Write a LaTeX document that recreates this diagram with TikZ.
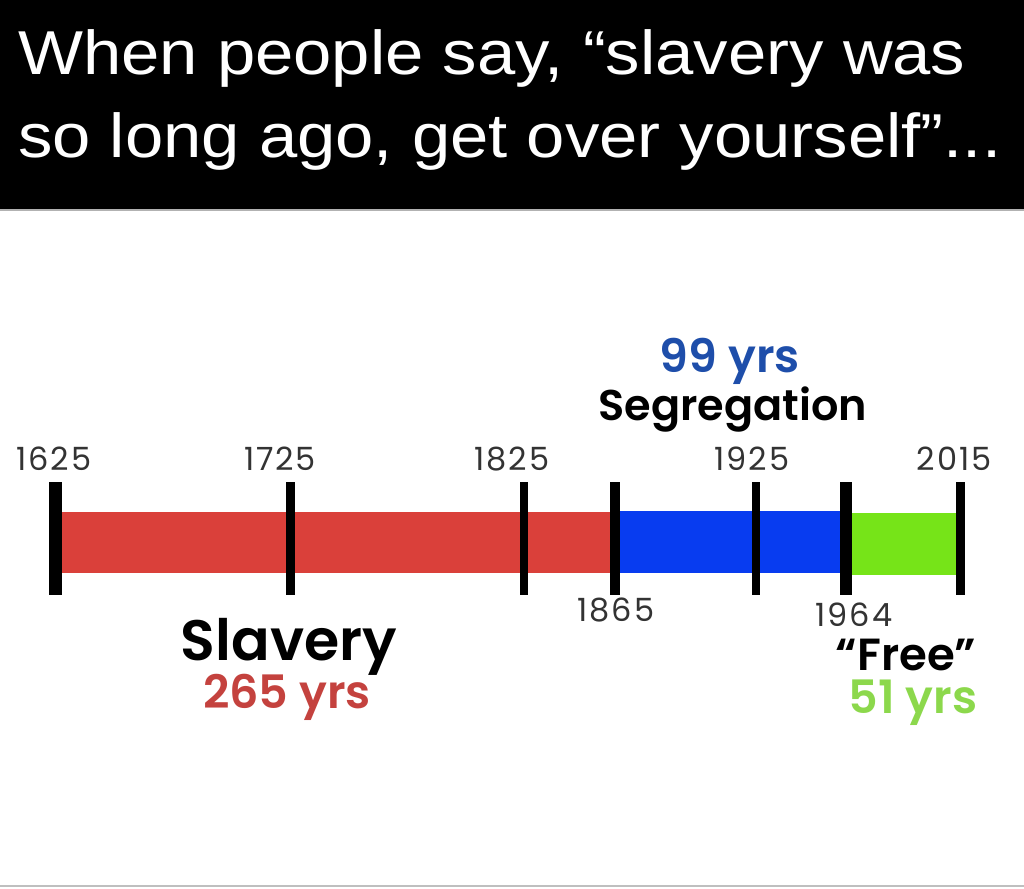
\documentclass[tikz,border=0pt]{standalone}
\usepackage{fontspec}
\setmainfont{Liberation Sans}
\newfontfamily\poppins{Poppins SemiBold}
\newfontfamily\yearfont[LetterSpace=6]{Poppins}
\usepackage{tikz}
\usetikzlibrary{positioning}
\definecolor{slavered}{RGB}{218,64,58}
\definecolor{segblue}{RGB}{8,60,240}
\definecolor{freegreen}{RGB}{118,228,24}
\definecolor{yrsred}{RGB}{196,66,62}
\definecolor{yrsblue}{RGB}{30,78,170}
\definecolor{yrsgreen}{RGB}{140,216,76}
\tikzset{
  yearlabel/.style={font=\yearfont\fontsize{32}{36}\selectfont, text=black!80, inner sep=0pt, anchor=base},
  biglabel/.style={font=\poppins\fontsize{43}{48}\selectfont, inner sep=0pt, anchor=base},
  yrslabel/.style={biglabel, font=\poppins\fontsize{46}{48}\selectfont},
  titleline/.style={font=\fontsize{62}{70}\selectfont, text=white, inner sep=0pt, anchor=base west},
}

\begin{document}
\begin{tikzpicture}[x=1pt,y=-1pt]
    \useasboundingbox (0,0) rectangle (1024,888);

    % header
    \fill [black] (0,0) rectangle (1024,209);
    \draw [black!30, line width=2pt] (0,210) -- (1024,210);
    \node (title1) [titleline] at (18,75) {\scalebox{1.11}[1]{When people say, “slavery was}};
    \node (title2) [titleline] at (18,157) {\scalebox{1.11}[1]{so long ago, get over yourself”...}};

    % bar
    \fill [slavered] (55,512) rectangle (615,573);
    \fill [segblue] (615,511) rectangle (846,573);
    \fill [freegreen] (846,513) rectangle (960,575);

    % ticks
    \foreach \x/\w in {55/13,290/9,524/8,615/10,756/8,846/12,960/9}
        \draw [line width=\w pt] (\x,482) -- (\x,595);

    % years above
    \node (n1625) [yearlabel] at (54,470) {1625};
    \node (n1725) [yearlabel] at (280,470) {1725};
    \node (n1825) [yearlabel] at (512,470) {1825};
    \node (n1925) [yearlabel] at (752,470) {1925};
    \node (n2015) [yearlabel] at (954,470) {2015};

    % years below
    \node (n1865) [yearlabel] at (616,621) {1865};
    \node (n1964) [yearlabel] at (854,626) {1964};

    % segregation
    \node (segyrs) [yrslabel, text=yrsblue] at (730,372) {99 yrs};
    \node (seg) [biglabel] at (733,420) {Segregation};

    % slavery
    \node (slav) [biglabel, font=\poppins\fontsize{57}{60}\selectfont] at (289,660) {Slavery};
    \node (slavyrs) [yrslabel, text=yrsred] at (287,708) {265 yrs};

    % free
    \node (free) [biglabel, font=\poppins\fontsize{45}{48}\selectfont] at (906,670) {“Free”};
    \node (freeyrs) [yrslabel, text=yrsgreen] at (913,713) {51 yrs};

    \draw [black!25, line width=2pt] (0,886) -- (1024,886);
\end{tikzpicture}
\end{document}
